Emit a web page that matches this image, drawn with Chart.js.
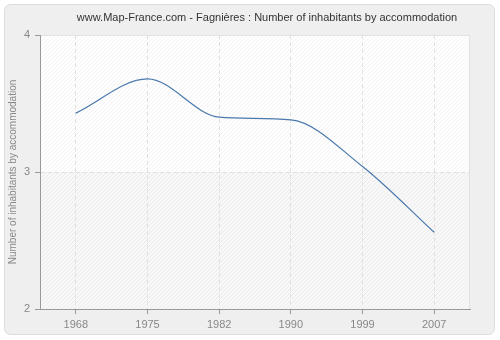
<!DOCTYPE html>
<html>
<head>
<meta charset="utf-8">
<script src="https://cdn.jsdelivr.net/npm/chart.js@4/dist/chart.umd.min.js"></script>
<style>
  html, body { margin: 0; padding: 0; background: #fff; }
  #wrap { width: 500px; height: 340px; }
</style>
</head>
<body>
<div id="wrap"><canvas id="myChart" width="500" height="340"></canvas></div>
<script>
// data
const years = ['1968', '1975', '1982', '1990', '1999', '2007'];
const inhabitants = [3.43, 3.68, 3.40, 3.38, 3.04, 2.56];
const yTicks = [2, 3, 4];

const chartTitle = 'www.Map-France.com - Fagnières : Number of inhabitants by accommodation';
const yTitle = 'Number of inhabitants by accommodation';

// grey frame, hatched plot area and title
const backdrop = {
    id: 'backdrop',
    beforeDraw(chart) {
        const ctx = chart.ctx;
        const a = chart.chartArea;
        ctx.save();
        ctx.fillStyle = '#fff';
        ctx.fillRect(0, 0, chart.width, chart.height);

        // outer rounded panel
        ctx.beginPath();
        ctx.roundRect(4.5, 4.5, 490, 330, 6);
        ctx.fillStyle = '#efefef';
        ctx.fill();
        ctx.strokeStyle = '#dcdcdc';
        ctx.lineWidth = 1;
        ctx.stroke();

        // plot area
        ctx.fillStyle = '#ffffff';
        ctx.fillRect(a.left, a.top, a.right - a.left, a.bottom - a.top);
        const y3 = chart.scales.y.getPixelForValue(3);
        ctx.fillStyle = '#f8f8f8';
        ctx.fillRect(a.left, y3, a.right - a.left, a.bottom - y3);

        // faint diagonal hatching
        ctx.beginPath();
        ctx.rect(a.left, a.top, a.right - a.left, a.bottom - a.top);
        ctx.clip();
        ctx.strokeStyle = 'rgba(0,0,0,0.05)';
        ctx.beginPath();
        for (let x = a.left - (a.bottom - a.top); x < a.right; x += 4) {
            ctx.moveTo(x, a.bottom);
            ctx.lineTo(x + (a.bottom - a.top), a.top);
        }
        ctx.stroke();
        ctx.restore();

        // light frame top/right
        ctx.save();
        ctx.strokeStyle = '#e2e2e2';
        ctx.beginPath();
        ctx.moveTo(a.left, a.top + 0.5);
        ctx.lineTo(a.right - 0.5, a.top + 0.5);
        ctx.lineTo(a.right - 0.5, a.bottom);
        ctx.stroke();

        // title
        ctx.fillStyle = '#333';
        ctx.font = '11px "Liberation Sans", Arial, sans-serif';
        ctx.textAlign = 'center';
        ctx.textBaseline = 'middle';
        ctx.fillText(chartTitle, 267, 18);
        ctx.restore();
    }
};

new Chart(document.getElementById('myChart'), {
    type: 'line',
    data: {
        labels: years,
        datasets: [{
            data: inhabitants,
            borderColor: '#4a78ad',
            borderWidth: 1.2,
            pointRadius: 0,
            fill: false,
            cubicInterpolationMode: 'monotone'
        }]
    },
    options: {
        responsive: false,
        animation: false,
        layout: { padding: { top: 35, right: 30, left: 0, bottom: 0 } },
        plugins: {
            legend: { display: false },
            tooltip: { enabled: false }
        },
        scales: {
            x: {
                offset: true,
                afterFit: (s) => { s.height = 31; },
                grid: {
                    offset: false,
                    color: '#e0e0e0',
                    tickColor: '#999',
                    tickLength: 5
                },
                border: { color: '#999', dash: [4, 3] },
                ticks: {
                    color: '#888',
                    padding: 4,
                    font: { family: '"Liberation Sans", Arial, sans-serif', size: 11 },
                    maxRotation: 0
                }
            },
            y: {
                min: 2,
                max: 4,
                afterFit: (s) => { s.width = 40; },
                afterBuildTicks: (s) => { s.ticks = yTicks.map(v => ({ value: v })); },
                grid: {
                    color: (c) => c.tick && c.tick.value === 3 ? '#e0e0e0' : 'rgba(0,0,0,0)',
                    tickColor: '#999',
                    tickLength: 5
                },
                border: { color: '#999', dash: [4, 3] },
                ticks: {
                    color: '#888',
                    padding: 5,
                    font: { family: '"Liberation Sans", Arial, sans-serif', size: 11 }
                },
                title: {
                    display: true,
                    text: yTitle,
                    color: '#888',
                    padding: { top: 7, bottom: 0 },
                    font: { family: '"Liberation Sans", Arial, sans-serif', size: 10 }
                }
            }
        }
    },
    plugins: [backdrop]
});
</script>
</body>
</html>
